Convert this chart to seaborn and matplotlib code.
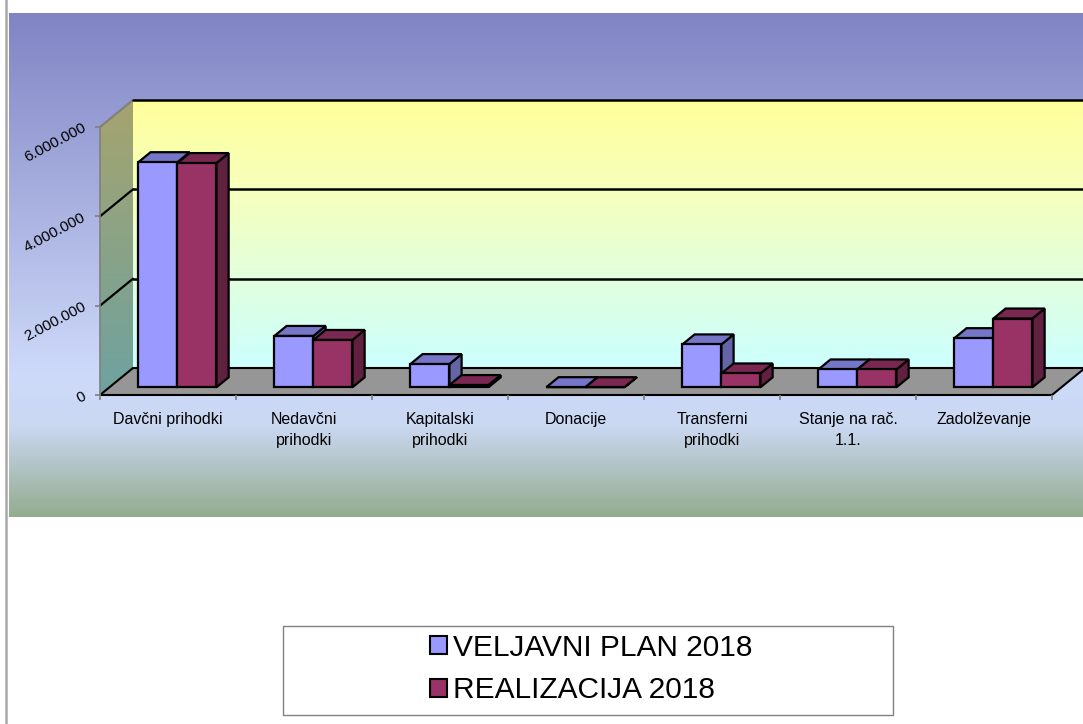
import numpy as np
import pandas as pd
import matplotlib
matplotlib.use("Agg")
import matplotlib.pyplot as plt
import seaborn as sns
from matplotlib.patches import Polygon, Rectangle, Patch
from matplotlib.lines import Line2D

# --- Data ---
categories = ["Davčni prihodki", "Nedavčni\nprihodki", "Kapitalski\nprihodki", "Donacije",
              "Transferni\nprihodki", "Stanje na rač.\n1.1.", "Zadolževanje"]
plan_2018 = [5040000, 1150000, 520000, 3000, 960000, 400000, 1100000]
realizacija_2018 = [5020000, 1060000, 50000, 2000, 310000, 400000, 1540000]
series_names = ["VELJAVNI PLAN 2018", "REALIZACIJA 2018"]
y_ticks = [0, 2000000, 4000000, 6000000]

# --- Colours ---
front_cols = ["#9999ff", "#993366"]
top_cols = ["#7676c8", "#7a2852"]
side_cols = ["#6464a6", "#622040"]

sns.set_style("white")
plt.rcParams["font.family"] = ["Liberation Sans", "DejaVu Sans"]
plt.rcParams["text.color"] = "black"

# --- Layout (pixels) ---
W, H = 1083, 724
area_l, area_t, area_r, area_b = 9, 13, 1083, 517
floor_x, floor_y = 100, 395          # front-left corner of the floor
cat_px = 136                         # pixels per category
val_px = 268 / 6000000               # pixels per unit value
depth_px = (33, 27)                  # oblique depth of the box
bar_depth = (0.285, 0.655)           # bar depth range as fraction of box depth

fig = plt.figure(figsize=(W / 100, H / 100), dpi=100)
ax = fig.add_axes([area_l / W, (H - area_b) / H, (area_r - area_l) / W, (area_b - area_t) / H])

xlim = (-0.5 + (area_l - floor_x) / cat_px, -0.5 + (area_r - floor_x) / cat_px)
ylim = ((floor_y - area_b) / val_px, (floor_y - area_t) / val_px)
Dx = depth_px[0] / cat_px
Dy = depth_px[1] / val_px
x0, x1 = -0.5, len(categories) - 0.5
ytop = y_ticks[-1]


def vgrad(stops, colors, n=256):
    t = np.linspace(0, 1, n)
    cols = np.array(colors, dtype=float) / 255
    g = np.stack([np.interp(t, stops, cols[:, c]) for c in range(3)], axis=-1)
    return g[:, None, :]


# --- Bars (front faces) via seaborn ---
df = pd.DataFrame({
    "kategorija": categories * 2,
    "vrednost": plan_2018 + realizacija_2018,
    "serija": [series_names[0]] * len(categories) + [series_names[1]] * len(categories),
})
sns.barplot(data=df, x="kategorija", y="vrednost", hue="serija", palette=front_cols,
            saturation=1, width=0.574, edgecolor="black", linewidth=1.6, ax=ax, legend=False)

ax.set_xlim(*xlim)
ax.set_ylim(*ylim)
ax.axis("off")

# --- Background gradient ---
ax.imshow(vgrad([0, 0.72, 0.82, 1.0], [(128, 132, 196), (206, 218, 250), (202, 216, 242), (148, 172, 144)]),
          extent=(xlim[0], xlim[1], ylim[0], ylim[1]), aspect="auto", zorder=0, origin="upper")

# --- Back wall ---
ax.imshow(vgrad([0, 0.35, 1], [(255, 255, 155), (246, 255, 190), (204, 255, 255)]),
          extent=(x0 + Dx, x1 + Dx, Dy, ytop + Dy), aspect="auto", zorder=1, origin="upper")

# --- Side wall ---
side_poly = Polygon([(x0, 0), (x0 + Dx, Dy), (x0 + Dx, ytop + Dy), (x0, ytop)],
                    closed=True, facecolor="none", edgecolor="none", zorder=1)
ax.add_patch(side_poly)
im = ax.imshow(vgrad([0, 1], [(166, 164, 110), (110, 162, 160)]),
               extent=(x0, x0 + Dx, 0, ytop + Dy), aspect="auto", zorder=1, origin="upper")
im.set_clip_path(side_poly)

# --- Floor ---
ax.add_patch(Polygon([(x0, 0), (x1, 0), (x1 + Dx, Dy), (x0 + Dx, Dy)], closed=True,
                     facecolor="#969696", edgecolor="black", linewidth=1.5, zorder=2))

# --- Gridlines ---
for v in y_ticks[1:]:
    side_c = "#808080" if v == ytop else "black"
    ax.plot([x0, x0 + Dx], [v, v + Dy], color=side_c, lw=1.6, zorder=3)
    ax.plot([x0 + Dx, x1 + Dx], [v + Dy, v + Dy], color="black", lw=1.8, zorder=3)

# --- Axes lines and ticks ---
ax.plot([x0, x0], [0, ytop], color="#808080", lw=1.2, zorder=3)
ax.hlines(y_ticks, x0 - 5 / cat_px, x0, color="#808080", lw=1.2, zorder=3)
ax.vlines(np.arange(x0, x1 + 0.5, 1.0), -5 / val_px, 0, color="#808080", lw=1.2, zorder=3)

# --- 3D bar tops and sides ---
d0, d1 = bar_depth
for h, container in enumerate(ax.containers):
    for k, rect in enumerate(container.patches):
        rect.set_x(rect.get_x() + d0 * Dx)
        rect.set_y(rect.get_y() + d0 * Dy)
        x, y, w, hh = rect.get_x(), rect.get_y(), rect.get_width(), rect.get_height()
        ddx, ddy = (d1 - d0) * Dx, (d1 - d0) * Dy
        z = 10 + k * 10 + h * 3
        ax.add_patch(Polygon([(x + w, y), (x + w, y + hh), (x + w + ddx, y + hh + ddy), (x + w + ddx, y + ddy)],
                             closed=True, facecolor=side_cols[h], edgecolor="black", linewidth=1.6, zorder=z))
        ax.add_patch(Polygon([(x, y + hh), (x + w, y + hh), (x + w + ddx, y + hh + ddy), (x + ddx, y + hh + ddy)],
                             closed=True, facecolor=top_cols[h], edgecolor="black", linewidth=1.6, zorder=z + 1))
        rect.set_zorder(z + 2)

# --- Category labels ---
for i, c in enumerate(categories):
    ax.text(i, -17 / val_px, c, ha="center", va="top", fontsize=11.5, linespacing=1.5,
            color="black", zorder=5)

# --- Value labels ---
for v in y_ticks:
    ax.text(x0 - 15 / cat_px, v, f"{v:,.0f}".replace(",", "."), ha="right", va="center",
            rotation=28, rotation_mode="anchor", fontsize=11, color="black", zorder=5)

# --- Left border line ---
fig.add_artist(Line2D([6 / W, 6 / W], [0, 1], color="#a8a8a8", lw=1.8))

# --- Legend ---
fig.add_artist(Rectangle((283 / W, 1 - 715 / H), (893 - 283) / W, (715 - 626) / H,
                         transform=fig.transFigure, facecolor="white", edgecolor="#808080", lw=1))
handles = [Patch(facecolor=front_cols[i], edgecolor="black", linewidth=1.5) for i in range(2)]
leg = fig.legend(handles, series_names, loc="center", bbox_to_anchor=(591 / W, 1 - 669 / H),
                 frameon=False, fontsize=21.5, handlelength=0.55, handleheight=0.55,
                 handletextpad=0.2, labelspacing=0.48, borderpad=0, labelcolor="black")

fig.savefig("out.png", dpi=100)
